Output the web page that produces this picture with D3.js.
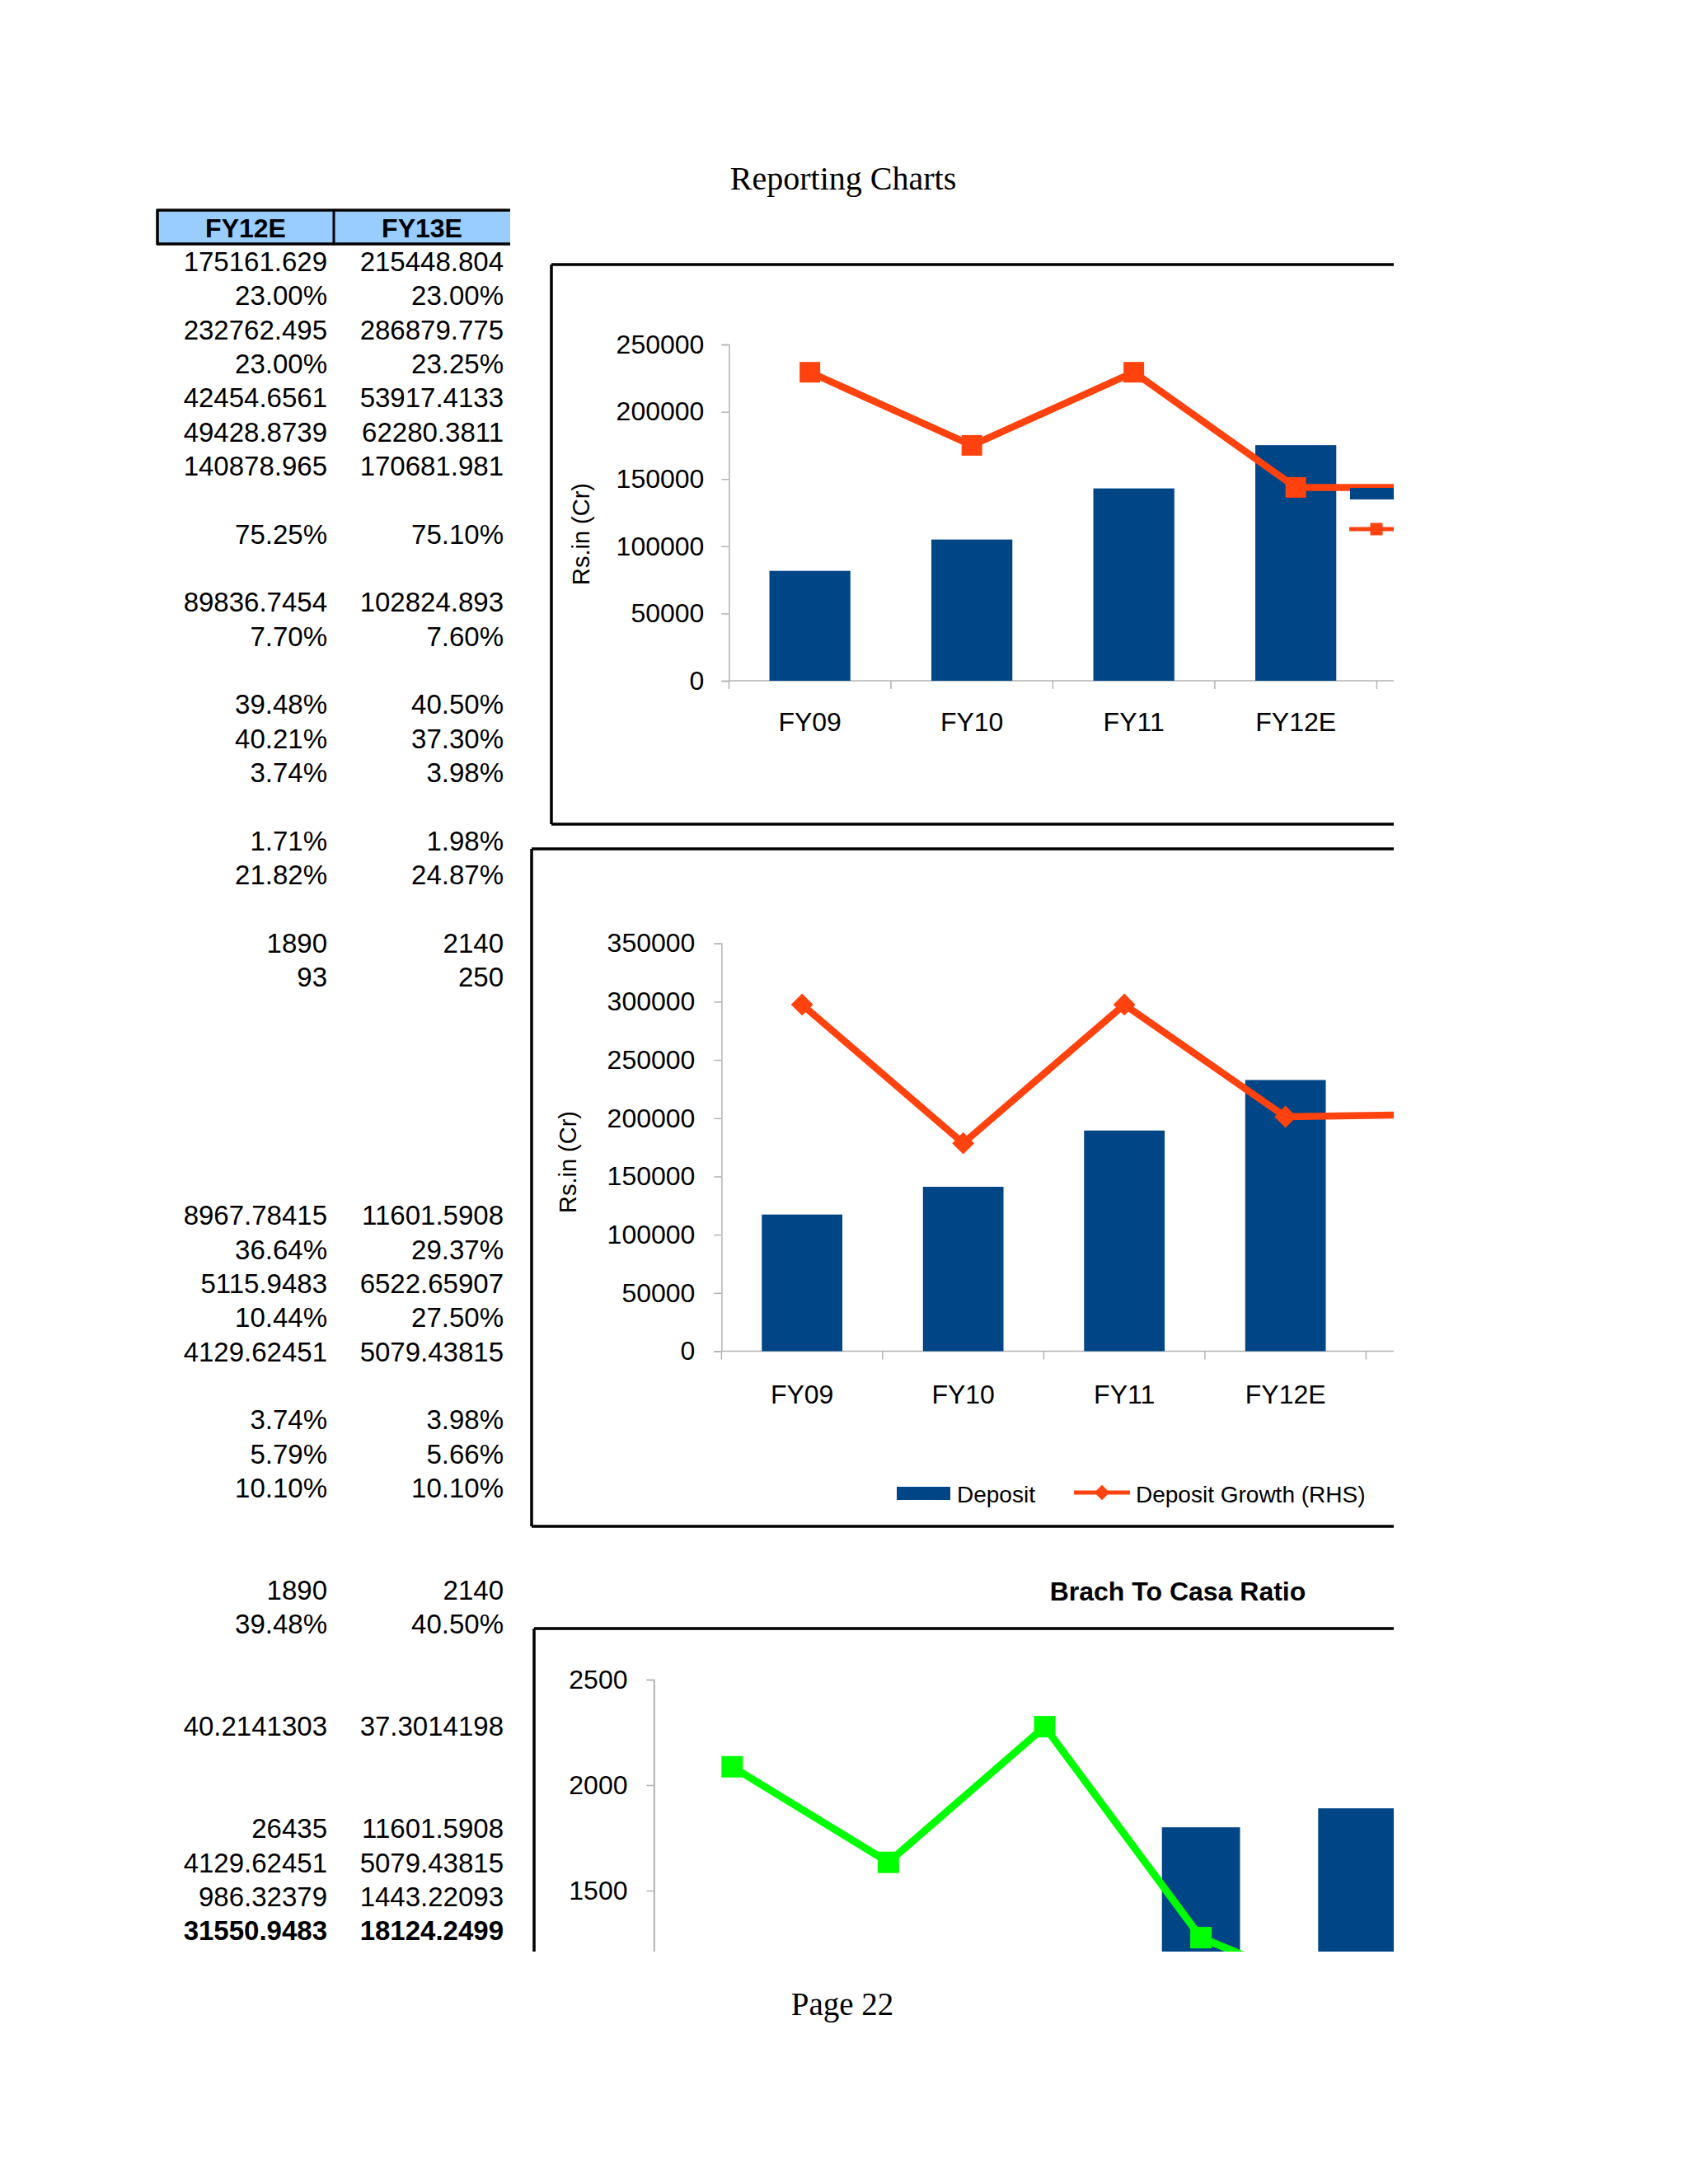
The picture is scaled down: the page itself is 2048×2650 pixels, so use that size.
<!DOCTYPE html>
<html>
<head>
<meta charset="utf-8">
<script src="https://cdnjs.cloudflare.com/ajax/libs/d3/7.8.5/d3.min.js"></script>
<style>
body{margin:0;background:#fff;}
svg text{font-family:"Liberation Sans",Arial,sans-serif;fill:#000;}
</style>
</head>
<body>
<svg id="page" width="2048" height="2650"></svg>
<script>
// table columns (blank = empty row)
var tableHead = ['FY12E','FY13E'];
var colFY12E = ['175161.629','23.00%','232762.495','23.00%','42454.6561','49428.8739','140878.965','',
  '75.25%','','89836.7454','7.70%','','39.48%','40.21%','3.74%','','1.71%','21.82%','',
  '1890','93','','','','','','','8967.78415','36.64%','5115.9483','10.44%','4129.62451','',
  '3.74%','5.79%','10.10%','','','1890','39.48%','','','40.2141303','','','26435','4129.62451','986.32379','31550.9483'];
var colFY13E = ['215448.804','23.00%','286879.775','23.25%','53917.4133','62280.3811','170681.981','',
  '75.10%','','102824.893','7.60%','','40.50%','37.30%','3.98%','','1.98%','24.87%','',
  '2140','250','','','','','','','11601.5908','29.37%','6522.65907','27.50%','5079.43815','',
  '3.98%','5.66%','10.10%','','','2140','40.50%','','','37.3014198','','','11601.5908','5079.43815','1443.22093','18124.2499'];

// charts
var categories = ['FY09','FY10','FY11','FY12E','FY13E'];
var advances = [81700, 105000, 143000, 175161.629, 215448.804];
var advancesGrowth = [36.7, 28.0, 36.7, 23.0, 23.0];
var deposits = [117300, 141100, 189400, 232762.495, 286879.775];
var depositGrowth = [34.0, 20.4, 34.0, 23.0, 23.25];
var branches = [null, null, null, 1800, 1890];
var casaRatio = [2087, 1634, 2277, 1277, 970];

var ticks1 = [0,50000,100000,150000,200000,250000];
var ticks2 = [0,50000,100000,150000,200000,250000,300000,350000];
var ticks3 = [1500,2000,2500];

var BLUE='#004586', ORANGE='#ff420e', GREEN='#00ff00', AXIS='#b3b3b3';

var svg = d3.select('#page');
var defs = svg.append('defs');
defs.append('clipPath').attr('id','clipR').append('rect').attr('x',0).attr('y',0).attr('width',1691).attr('height',2650);
defs.append('clipPath').attr('id','clip3').append('rect').attr('x',0).attr('y',0).attr('width',1691).attr('height',2368);

svg.append('text').attr('x',1023).attr('y',230).attr('text-anchor','middle')
  .style('font-family','"Liberation Serif","Times New Roman",serif').attr('font-size',40).text('Reporting Charts');
svg.append('text').attr('x',1022).attr('y',2445).attr('text-anchor','middle')
  .style('font-family','"Liberation Serif","Times New Roman",serif').attr('font-size',39).text('Page 22');

// ---- table ----
var tb = svg.append('g');
tb.append('rect').attr('x',191).attr('y',255).attr('width',428).attr('height',41).attr('fill','#99ccff');
tb.append('line').attr('x1',190).attr('x2',619).attr('y1',255).attr('y2',255).attr('stroke','#000').attr('stroke-width',3.5);
tb.append('line').attr('x1',190).attr('x2',619).attr('y1',296).attr('y2',296).attr('stroke','#000').attr('stroke-width',3.5);
tb.append('line').attr('x1',191).attr('x2',191).attr('y1',254).attr('y2',297).attr('stroke','#000').attr('stroke-width',3.5);
tb.append('line').attr('x1',405).attr('x2',405).attr('y1',254).attr('y2',297).attr('stroke','#000').attr('stroke-width',3);
tb.selectAll('text.h').data(tableHead).enter().append('text')
  .attr('x',function(d,i){return i==0?298:512;}).attr('y',288).attr('text-anchor','middle')
  .attr('font-size',32).attr('font-weight','bold').text(function(d){return d;});
var rowY = function(i){return 329 + i*41.33;};
var last = colFY12E.length-1;
tb.selectAll('text.c1').data(colFY12E).enter().append('text')
  .attr('x',397).attr('y',function(d,i){return rowY(i);}).attr('text-anchor','end').attr('font-size',33)
  .attr('font-weight',function(d,i){return i==last?'bold':'normal';}).text(function(d){return d;});
tb.selectAll('text.c2').data(colFY13E).enter().append('text')
  .attr('x',611).attr('y',function(d,i){return rowY(i);}).attr('text-anchor','end').attr('font-size',33)
  .attr('font-weight',function(d,i){return i==last?'bold':'normal';}).text(function(d){return d;});

// ---- helpers ----
function box(g,left,top,bottom){
  g.append('line').attr('x1',left).attr('x2',1691).attr('y1',top).attr('y2',top).attr('stroke','#000').attr('stroke-width',3.5);
  g.append('line').attr('x1',left).attr('x2',left).attr('y1',top).attr('y2',bottom).attr('stroke','#000').attr('stroke-width',3.5);
  if(bottom<2368) g.append('line').attr('x1',left).attr('x2',1691).attr('y1',bottom).attr('y2',bottom).attr('stroke','#000').attr('stroke-width',3.5);
}
function yAxis(g,y,x0,tv,pad){
  var a = g.append('g').attr('transform','translate('+x0+',0)')
    .call(d3.axisLeft(y).tickValues(tv).tickSize(9).tickPadding(pad).tickFormat(d3.format('d')));
  a.select('.domain').attr('stroke',AXIS).attr('stroke-width',1.5);
  a.selectAll('.tick line').attr('stroke',AXIS).attr('stroke-width',1.5);
  a.selectAll('text').attr('font-size',32).style('font-family','"Liberation Sans",Arial,sans-serif').attr('fill','#000');
  return a;
}
function xAxis(g,x,y0,labelY){
  var step = x.step();
  g.append('line').attr('x1',x.range()[0]).attr('x2',x.range()[1]).attr('y1',y0).attr('y2',y0).attr('stroke',AXIS).attr('stroke-width',1.5);
  g.selectAll('line.xt').data(d3.range(categories.length+1)).enter().append('line')
    .attr('x1',function(i){return x.range()[0]+i*step;}).attr('x2',function(i){return x.range()[0]+i*step;})
    .attr('y1',y0).attr('y2',y0+10).attr('stroke',AXIS).attr('stroke-width',1.5);
  g.selectAll('text.xl').data(categories.slice(0,4)).enter().append('text')
    .attr('x',function(d){return x(d)+x.bandwidth()/2;}).attr('y',labelY).attr('text-anchor','middle')
    .attr('font-size',32).text(function(d){return d;});
}
function yTitle(g,cx,cy){
  g.append('text').attr('transform','translate('+cx+','+cy+') rotate(-90)').attr('text-anchor','middle')
    .attr('dy','0.35em').attr('font-size',29).text('Rs.in (Cr)');
}
function squareSym(size){return d3.symbol().type(d3.symbolSquare).size(size*size);}

// ---- chart 1 : advances ----
var g1 = svg.append('g').attr('clip-path','url(#clipR)');
box(g1,669,321,1000);
var x1 = d3.scaleBand().domain(categories).range([884.4,884.4+5*196.5]).paddingInner(0.5).paddingOuter(0.25);
var y1 = d3.scaleLinear().domain([0,250000]).range([826,418]);
var r1 = d3.scaleLinear().domain([0,40]).range([826,418]);
yAxis(g1,y1,884.4,ticks1,21);
xAxis(g1,x1,826,887);
yTitle(g1,705,648);
g1.selectAll('rect.bar').data(advances).enter().append('rect')
  .attr('x',function(d,i){return x1(categories[i]);}).attr('width',x1.bandwidth())
  .attr('y',function(d){return y1(d);}).attr('height',function(d){return y1(0)-y1(d);}).attr('fill',BLUE);
var cx1 = function(d,i){return x1(categories[i])+x1.bandwidth()/2;};
g1.append('path').datum(advancesGrowth).attr('fill','none').attr('stroke',ORANGE).attr('stroke-width',8.5).attr('stroke-linejoin','round')
  .attr('d',d3.line().x(cx1).y(function(d){return r1(d);}));
g1.selectAll('path.m').data(advancesGrowth).enter().append('path')
  .attr('transform',function(d,i){return 'translate('+cx1(d,i)+','+r1(d)+')';}).attr('d',squareSym(25)()).attr('fill',ORANGE);
// legend (cut at page edge)
g1.append('rect').attr('x',1638).attr('y',592).attr('width',60).attr('height',14).attr('fill',BLUE);
g1.append('line').attr('x1',1637).attr('x2',1700).attr('y1',642).attr('y2',642).attr('stroke',ORANGE).attr('stroke-width',5);
g1.append('path').attr('transform','translate(1670,642)').attr('d',squareSym(15)()).attr('fill',ORANGE);

// ---- chart 2 : deposits ----
var g2 = svg.append('g').attr('clip-path','url(#clipR)');
box(g2,645,1030,1852);
var x2 = d3.scaleBand().domain(categories).range([875.4,875.4+5*195.5]).paddingInner(0.5).paddingOuter(0.25);
var y2 = d3.scaleLinear().domain([0,350000]).range([1639.5,1144.7]);
var r2 = d3.scaleLinear().domain([0,40]).range([1639.5,1144.7]);
yAxis(g2,y2,875.4,ticks2,23);
xAxis(g2,x2,1639.5,1703);
yTitle(g2,689,1410);
g2.selectAll('rect.bar').data(deposits).enter().append('rect')
  .attr('x',function(d,i){return x2(categories[i]);}).attr('width',x2.bandwidth())
  .attr('y',function(d){return y2(d);}).attr('height',function(d){return y2(0)-y2(d);}).attr('fill',BLUE);
var cx2 = function(d,i){return x2(categories[i])+x2.bandwidth()/2;};
g2.append('path').datum(depositGrowth).attr('fill','none').attr('stroke',ORANGE).attr('stroke-width',8.5).attr('stroke-linejoin','round')
  .attr('d',d3.line().x(cx2).y(function(d){return r2(d);}));
g2.selectAll('path.m').data(depositGrowth).enter().append('path')
  .attr('transform',function(d,i){return 'translate('+cx2(d,i)+','+r2(d)+') rotate(45)';}).attr('d',squareSym(19)()).attr('fill',ORANGE);
// legend
g2.append('rect').attr('x',1088).attr('y',1804).attr('width',65).attr('height',16).attr('fill',BLUE);
g2.append('text').attr('x',1161).attr('y',1823).attr('font-size',28).text('Deposit');
g2.append('line').attr('x1',1303).attr('x2',1371).attr('y1',1811).attr('y2',1811).attr('stroke',ORANGE).attr('stroke-width',5);
g2.append('path').attr('transform','translate(1337,1811) rotate(45)').attr('d',squareSym(13)()).attr('fill',ORANGE);
g2.append('text').attr('x',1378).attr('y',1823).attr('font-size',28).text('Deposit Growth (RHS)');

// ---- chart 3 : branch to casa ----
svg.append('text').attr('x',1429).attr('y',1942).attr('text-anchor','middle').attr('font-size',32).attr('font-weight','bold').text('Brach To Casa Ratio');
var g3 = svg.append('g').attr('clip-path','url(#clip3)');
box(g3,648,1976,2400);
var x3 = d3.scaleBand().domain(categories).range([793.5,793.5+5*189.6]).paddingInner(0.5).paddingOuter(0.25);
var y3 = d3.scaleLinear().domain([0,2500]).range([2678,2038]);
yAxis(g3,y3,793.5,ticks3,23);
g3.append('line').attr('x1',793.5).attr('x2',793.5).attr('y1',2038).attr('y2',2368).attr('stroke',AXIS).attr('stroke-width',1.5);
g3.selectAll('rect.bar').data(branches).enter().filter(function(d){return d!=null;}).append('rect')
  .attr('x',function(d){return x3(categories[branches.indexOf(d)]);}).attr('width',x3.bandwidth())
  .attr('y',function(d){return y3(d);}).attr('height',function(d){return y3(0)-y3(d);}).attr('fill',BLUE);
var cx3 = function(d,i){return x3(categories[i])+x3.bandwidth()/2;};
g3.append('path').datum(casaRatio).attr('fill','none').attr('stroke',GREEN).attr('stroke-width',9).attr('stroke-linejoin','round')
  .attr('d',d3.line().x(cx3).y(function(d){return y3(d);}));
g3.selectAll('path.m').data(casaRatio).enter().append('path')
  .attr('transform',function(d,i){return 'translate('+cx3(d,i)+','+y3(d)+')';}).attr('d',squareSym(26)()).attr('fill',GREEN);
</script>
</body>
</html>
